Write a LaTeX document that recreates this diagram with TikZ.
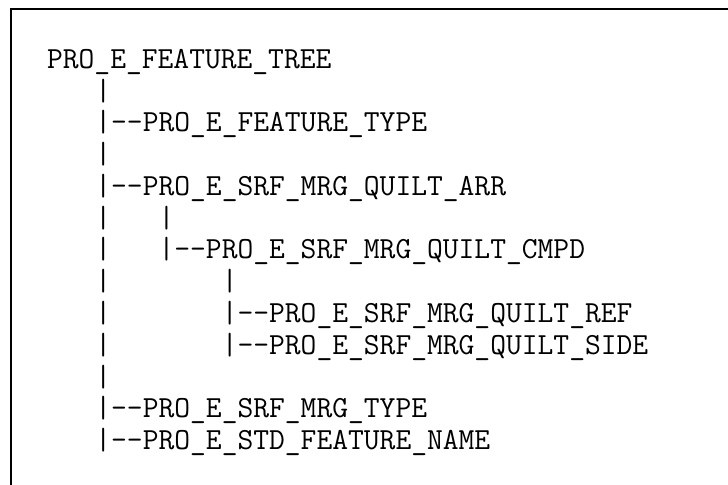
\documentclass[tikz,border=0pt]{standalone}
\usepackage{fontspec}
\newcommand{\treefont}{\ttfamily\fontsize{30.67bp}{32bp}\selectfont}
\tikzset{
  treeline/.style={anchor=base west, inner sep=0pt, outer sep=0pt, font=\treefont},
  frameline/.style={line width=2.2bp, draw=black}
}
\begin{document}
\begin{tikzpicture}[x=1bp, y=1bp]
        \useasboundingbox (0,0) rectangle (728,-485);
        % frame: top and left edge only
        \coordinate (frametop) at (728,-8.8);
        \coordinate (framecorner) at (10.8,-8.8);
        \coordinate (framebottom) at (10.8,-485);
        \draw[frameline] (frametop) -- (framecorner) -- (framebottom);

        % tree text, one node per row (column width 16.1, row pitch 31.75)
        \node[treeline] (tree)  at (47.1,-68.5)   {PRO\_E\_FEATURE\_TREE};
        \node[treeline] (bar1)  at (95.4,-100.25) {|};
        \node[treeline] (ftype) at (95.4,-132)    {|--PRO\_E\_FEATURE\_TYPE};
        \node[treeline] (bar2)  at (95.4,-163.75) {|};
        \node[treeline] (arr)   at (95.4,-195.5)  {|--PRO\_E\_SRF\_MRG\_QUILT\_ARR};
        \node[treeline] (bar3)  at (95.4,-227.25) {|~~~|};
        \node[treeline] (cmpd)  at (95.4,-259)    {|~~~|--PRO\_E\_SRF\_MRG\_QUILT\_CMPD};
        \node[treeline] (bar4)  at (95.4,-290.75) {|~~~~~~~|};
        \node[treeline] (ref)   at (95.4,-322.5)  {|~~~~~~~|--PRO\_E\_SRF\_MRG\_QUILT\_REF};
        \node[treeline] (side)  at (95.4,-354.25) {|~~~~~~~|--PRO\_E\_SRF\_MRG\_QUILT\_SIDE};
        \node[treeline] (bar5)  at (95.4,-386)    {|};
        \node[treeline] (mtype) at (95.4,-417.75) {|--PRO\_E\_SRF\_MRG\_TYPE};
        \node[treeline] (fname) at (95.4,-449.5)  {|--PRO\_E\_STD\_FEATURE\_NAME};
    \end{tikzpicture}
\end{document}
